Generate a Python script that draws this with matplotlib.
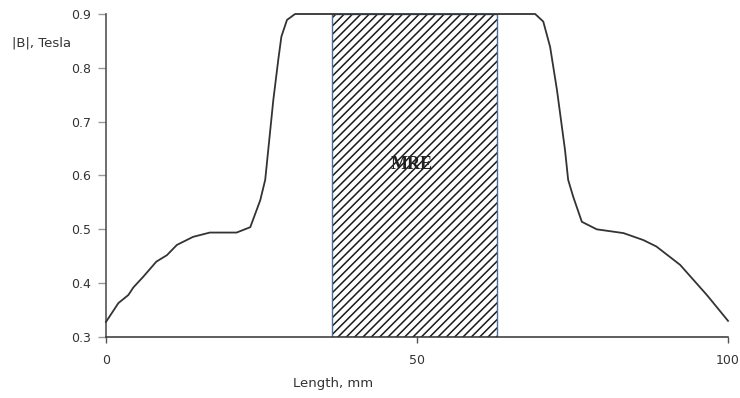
import matplotlib
matplotlib.use("Agg")
import matplotlib.pyplot as plt
from matplotlib.patches import Rectangle

# field profile along the magnet length
length_mm = [0.0, 2.0, 3.6, 4.4, 6.0, 8.1, 9.8, 11.4, 14.0, 16.7, 21.0, 23.2,
             24.8, 25.6, 26.9, 27.7, 28.2, 29.1, 30.4,
             69.0, 70.3, 71.4, 72.5, 73.8, 74.3, 75.1, 76.5, 78.9, 83.2,
             86.4, 88.5, 92.3, 96.6, 100.0]
field_T = [0.328, 0.363, 0.378, 0.392, 0.412, 0.440, 0.452, 0.471, 0.486, 0.494,
           0.494, 0.504, 0.554, 0.592, 0.740, 0.815, 0.858, 0.889, 0.900,
           0.900, 0.886, 0.839, 0.759, 0.647, 0.592, 0.561, 0.514, 0.500, 0.493,
           0.480, 0.468, 0.434, 0.378, 0.330]

# MRE sample zone
mre_start, mre_end = 36.3, 62.9
mre_label = "MRE"

x_ticks = [0, 50, 100]
y_ticks = [0.3, 0.4, 0.5, 0.6, 0.7, 0.8, 0.9]

plt.rcParams["hatch.linewidth"] = 1.1

fig = plt.figure(figsize=(7.4, 3.98), dpi=100)
ax = fig.add_axes([0.1432, 0.1533, 0.8406, 0.8115])

ax.set_xlim(0, 100)
ax.set_ylim(0.3, 0.9)

# hatched zone + its outline
ax.add_patch(Rectangle((mre_start, 0.3), mre_end - mre_start, 0.6,
                       facecolor="none", edgecolor="#1a1a1a", hatch="////",
                       linewidth=0, zorder=1))
ax.add_patch(Rectangle((mre_start, 0.3), mre_end - mre_start, 0.6,
                       facecolor="none", edgecolor="#4a6f96",
                       linewidth=1.0, zorder=2))
ax.text((mre_start + mre_end) / 2 - 0.4, 0.62, mre_label,
        family="Liberation Serif", fontweight="bold", fontsize=13,
        color="#222222", ha="center", va="center", zorder=3)

ax.plot(length_mm, field_T, color="#333333", linewidth=1.3, zorder=4,
        clip_on=False, solid_joinstyle="round")

for s in ("top", "right"):
    ax.spines[s].set_visible(False)
ax.spines["left"].set_color("#555555")
ax.spines["left"].set_linewidth(1.2)
ax.spines["bottom"].set_color("#333333")
ax.spines["bottom"].set_linewidth(1.1)
ax.spines["bottom"].set_zorder(5)

ax.set_xticks(x_ticks)
ax.set_yticks(y_ticks)
ax.set_yticklabels([f"{v:.1f}" for v in y_ticks])
ax.tick_params(axis="y", direction="out", length=6, width=1,
               color="#999999", labelsize=9, labelcolor="#333333", pad=5)
ax.tick_params(axis="x", direction="out", length=4, width=1,
               color="#555555", labelsize=9, labelcolor="#333333", pad=8)

fig.text(12 / 740, 1 - 43 / 398, "|B|, Tesla", fontsize=9.5,
         color="#333333", ha="left", va="center")
fig.text(333 / 740, 1 - 384 / 398, "Length, mm", fontsize=9.5,
         color="#333333", ha="center", va="center")

fig.savefig("out.png", dpi=100)
